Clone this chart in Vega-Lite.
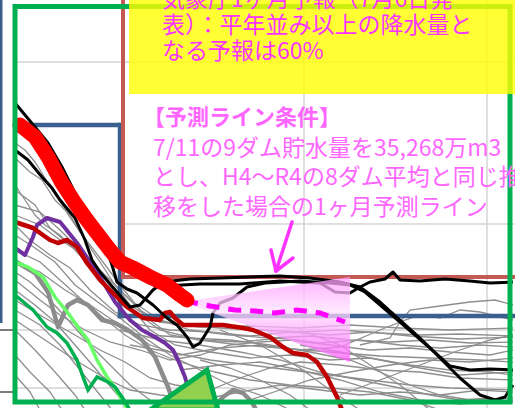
{
  "$schema": "https://vega.github.io/schema/vega-lite/v6.json",
  "autosize": {"type": "fit", "contains": "padding"},
  "width": 515,
  "height": 408,
  "padding": 0,
  "background": "white",
  "config": {"view": {"stroke": null}},
  "datasets": {
    "grid": [
      {"x": 15, "y": 62, "x2": 515, "y2": 62},
      {"x": 120, "y": 224, "x2": 515, "y2": 224},
      {"x": 15, "y": 330, "x2": 515, "y2": 330},
      {"x": 15, "y": 388, "x2": 515, "y2": 388},
      {"x": 123, "y": 0, "x2": 123, "y2": 408},
      {"x": 304, "y": 0, "x2": 304, "y2": 408},
      {"x": 487, "y": 0, "x2": 487, "y2": 408}
    ],
    "outerBlue": [{"x": 1, "y": 0, "x2": 1, "y2": 323}],
    "outerDark": [
      {"x": 0, "y": 330, "x2": 13, "y2": 330},
      {"x": 0, "y": 392, "x2": 13, "y2": 392}
    ],
    "gray": [
      {"s": "g1", "x": [15,25,35,45,55,70,85,100,115,130,150,180,220,260,300,340,380,420,460,513], "y": [143,150,162,178,195,215,240,262,285,305,318,325,328,330,332,330,333,335,334,336]},
      {"s": "g2", "x": [15,30,42,55,65,80,100,120,140,160,200,250,300,350,400,450,513], "y": [158,172,180,200,210,232,258,285,310,322,327,326,328,325,328,330,328]},
      {"s": "g3", "x": [15,35,50,70,90,110,130,150,170,200,240,280,320,360,400,440,480,513], "y": [190,205,228,245,262,280,300,320,335,340,342,338,343,340,345,348,345,347]},
      {"s": "g4", "x": [15,40,60,85,105,125,150,175,210,250,290,330,370,410,450,490,513], "y": [215,225,240,255,278,300,330,345,352,358,355,360,358,365,370,372,375]},
      {"s": "g5", "x": [15,35,55,75,95,120,145,170,200,230,260,290], "y": [235,248,262,285,300,318,338,355,370,385,395,410]},
      {"s": "g6", "x": [15,40,60,80,100,125,150,180,215,250,290,330,370,410,440], "y": [250,262,280,298,315,335,350,362,372,380,385,388,392,400,410]},
      {"s": "g7", "x": [15,30,50,70,90,110,130,150,165], "y": [272,282,300,322,345,365,385,400,410]},
      {"s": "g8", "x": [15,35,55,75,95,115,130], "y": [290,305,322,345,368,392,410]},
      {"s": "g9", "x": [15,40,60,80,100,112], "y": [310,325,345,370,395,410]},
      {"s": "g10", "x": [15,35,55,75,85], "y": [330,350,372,395,410]},
      {"s": "g11", "x": [15,30,50,62], "y": [355,372,392,410]},
      {"s": "g12", "x": [15,30,40], "y": [375,392,410]},
      {"s": "g13", "x": [15,40,60,80,100,130,160,190,230,270,310,350,390,430,470,513], "y": [205,212,230,250,270,300,320,330,335,338,336,340,342,340,343,342]},
      {"s": "g14", "x": [15,30,50,70,90,115,140,170,210,250,290,330,370,410,460,513], "y": [225,240,255,268,290,312,325,330,332,336,332,335,332,336,339,337]},
      {"s": "g15", "x": [15,40,65,90,120,150,180,220,260,300,340,380,400,410,440,470,495,513], "y": [262,272,290,305,325,345,355,348,345,350,347,330,322,310,306,302,300,305]},
      {"s": "g16", "x": [15,40,60,85,110,140,170,200,230,260,290,330,370,410,450,490,513], "y": [280,300,315,330,342,350,360,355,345,342,340,345,350,348,352,355,350]},
      {"s": "g17", "x": [15,45,75,100,125,150,175,210,240,270,300,340,380,420,460,513], "y": [300,318,335,350,362,378,385,390,378,368,362,365,370,372,378,380]},
      {"s": "g18", "x": [15,45,75,105,130,160,200,240,280,320,360,400,440,480,513], "y": [320,340,360,378,390,395,400,392,385,390,395,392,395,390,392]},
      {"s": "g19", "x": [120,160,200,240,280,320,360,400,430,460,490,513], "y": [330,340,345,352,360,372,380,388,395,400,398,402]},
      {"s": "g20", "x": [150,190,230,270,310,350,380,410,440,470,513], "y": [335,338,340,345,352,360,372,385,395,400,398]},
      {"s": "g21", "x": [200,230,260,290,310], "y": [360,368,380,395,410]},
      {"s": "g22", "x": [180,220,260,300,340,380,420,460,513], "y": [370,365,362,370,380,392,400,404,400]},
      {"s": "g23", "x": [250,280,310,350,390,430,470,513], "y": [400,390,380,372,365,360,362,358]},
      {"s": "g24", "x": [360,390,400,420,440,460,480,513], "y": [345,338,322,315,318,310,312,320]},
      {"s": "g25", "x": [300,340,380,420,460,513], "y": [345,352,360,368,375,372]},
      {"s": "g26", "x": [15,25,35,45,60,75,95,115,135,160,200,240,280,330,380,430,480,513], "y": [185,200,215,225,235,250,272,295,312,330,340,345,348,352,356,358,360,362]},
      {"s": "g27", "x": [300,340,370,400,430], "y": [330,345,365,385,410]},
      {"s": "g28", "x": [340,380,420,460,490,513], "y": [395,380,365,350,340,335]},
      {"s": "g29", "x": [220,260,300,330,360], "y": [330,345,368,390,410]},
      {"s": "g30", "x": [130,170,210,250,290,330,370,410,450,513], "y": [345,352,360,365,370,375,380,385,388,390]}
    ],
    "thickGray": [
      {"s": "a", "x": [15,35,48,58,68,77,88,102,115,128,142,155,168,176], "y": [261,273,292,327,305,300,305,320,323,330,340,357,387,410]},
      {"s": "b", "x": [212,223,233,243,252,256], "y": [410,397,390,393,402,410]}
    ],
    "lightGreen": [
      {"s": "lg", "x": [15,28,43,55,68,80,88,97,107,115,122,128], "y": [262,267,277,297,313,330,340,360,377,388,400,410]}
    ],
    "green": [
      {"s": "gr", "x": [15,33,47,57,67,77,83,88,97,108,115,122,130], "y": [295,310,327,333,343,360,377,390,377,382,387,397,410]}
    ],
    "purple": [
      {"s": "p", "x": [15,25,33,37,47,60,65,77,90,100,115,130,142,155,165,173,178,185,190,192], "y": [248,255,237,225,218,222,228,243,262,277,302,320,330,337,343,350,360,377,395,410]}
    ],
    "darkRed": [
      {"s": "dr", "x": [15,33,50,58,67,77,87,100,113,127,143,160,165,170,175,183,203,223,243,253,270,283,293,307,317,327,337,342], "y": [222,228,240,243,240,247,263,280,293,307,318,320,313,312,318,325,325,325,328,330,337,347,353,355,362,377,397,410]}
    ],
    "black": [
      {"s": "b1", "x": [15,35,48,62,75,88,98,105,112,117,127,137,153,167,177,187,193,200,210,213,220,233,247,265,300,330,350,365,400,430,450,470,490,513], "y": [103,127,143,167,193,213,227,245,265,282,289,293,305,318,325,337,347,343,327,313,303,298,287,283,281,283,285,292,322,348,366,370,369,370]},
      {"s": "b2", "x": [15,28,42,52,60,75,85,92,100,110,123,130,140,153,163,190,220,250,280,310,340,360,380,400,420,440,460,480,495,505,513], "y": [150,160,177,188,200,218,240,260,272,284,299,307,305,290,282,279,278,277,276,278,282,287,302,320,338,358,378,395,400,397,385]},
      {"s": "b3", "x": [165,200,240,280,320,335,350,360,370,385,393,400,420,445,470,490,513], "y": [286,284,284,281,283,292,293,287,282,279,272,280,281,279,281,283,282]}
    ],
    "blue": [
      {"x": 15, "y": 125, "x2": 120, "y2": 125},
      {"x": 120, "y": 125, "x2": 120, "y2": 316},
      {"x": 120, "y": 316, "x2": 515, "y2": 316}
    ],
    "brown": [
      {"x": 123, "y": 0, "x2": 123, "y2": 277},
      {"x": 123, "y": 277, "x2": 515, "y2": 277}
    ],
    "fan": [
      {"x": 182, "y": 302, "y2": 302},
      {"x": 350, "y": 277, "y2": 362}
    ],
    "dash": [
      {"s": "d", "x": [185,210,235,255,275,297,320,345], "y": [301,306,310,311,313,310,313,322]}
    ],
    "red": [
      {"s": "r", "x": [20,35,48,62,75,87,100,110,120,133,150,167,180,187], "y": [125,137,157,183,203,220,237,250,262,268,277,285,295,300]}
    ],
    "poly": [
      {"x": 150, "y": 410, "y2": 410},
      {"x": 207, "y": 370, "y2": 410},
      {"x": 218, "y": 410, "y2": 410}
    ],
    "box": [{"x": 15, "y": 6.5, "x2": 510, "y2": 402}],
    "yellow": [{"x": 129, "y": -5, "x2": 520, "y2": 94}],
    "ytext": [
      {"x": 162, "y": 0, "t": "気象庁1ヶ月予報（7月6日発"},
      {"x": 162, "y": 26, "t": "表）：平年並み以上の降水量と"},
      {"x": 162, "y": 52, "t": "なる予報は60%"}
    ],
    "title": [{"x": 143, "y": 118, "t": "【予測ライン条件】"}],
    "body": [
      {"x": 153, "y": 149, "t": "7/11の9ダム貯水量を35,268万m3"},
      {"x": 153, "y": 178, "t": "とし、H4～R4の8ダム平均と同じ推"},
      {"x": 153, "y": 208, "t": "移をした場合の1ヶ月予測ライン"}
    ],
    "arrow": [
      {"x": 292, "y": 222, "x2": 276, "y2": 271},
      {"x": 276, "y": 271, "x2": 271, "y2": 250},
      {"x": 276, "y": 271, "x2": 293, "y2": 258}
    ]
  },
  "encoding": {
    "x": {"field": "x", "type": "quantitative", "scale": {"domain": [0, 515], "nice": false, "zero": false}, "axis": null},
    "y": {"field": "y", "type": "quantitative", "scale": {"domain": [0, 408], "reverse": true, "nice": false, "zero": false}, "axis": null}
  },
  "layer": [
    {"data": {"name": "grid"}, "mark": {"type": "rule", "color": "#D4D4D4", "strokeWidth": 1.5, "clip": true}, "encoding": {"x2": {"field": "x2"}, "y2": {"field": "y2"}}},
    {"data": {"name": "outerBlue"}, "mark": {"type": "rule", "color": "#3B5E8C", "strokeWidth": 3, "clip": true}, "encoding": {"x2": {"field": "x2"}, "y2": {"field": "y2"}}},
    {"data": {"name": "outerDark"}, "mark": {"type": "rule", "color": "#505050", "strokeWidth": 1.5, "clip": true}, "encoding": {"x2": {"field": "x2"}, "y2": {"field": "y2"}}},
    {"data": {"name": "gray"}, "transform": [{"flatten": ["x", "y"]}], "mark": {"type": "line", "color": "#8E8E8E", "strokeWidth": 1.3, "clip": true}, "encoding": {"detail": {"field": "s"}}},
    {"data": {"name": "thickGray"}, "transform": [{"flatten": ["x", "y"]}], "mark": {"type": "line", "color": "#8C8C8C", "strokeWidth": 4.5, "clip": true, "strokeJoin": "round"}, "encoding": {"detail": {"field": "s"}}},
    {"data": {"name": "lightGreen"}, "transform": [{"flatten": ["x", "y"]}], "mark": {"type": "line", "color": "#66FF66", "strokeWidth": 3.5, "clip": true}, "encoding": {"detail": {"field": "s"}}},
    {"data": {"name": "green"}, "transform": [{"flatten": ["x", "y"]}], "mark": {"type": "line", "color": "#00B050", "strokeWidth": 3.5, "clip": true}, "encoding": {"detail": {"field": "s"}}},
    {"data": {"name": "blue"}, "mark": {"type": "rule", "color": "#3A6090", "strokeWidth": 4.5, "strokeCap": "square", "clip": true}, "encoding": {"x2": {"field": "x2"}, "y2": {"field": "y2"}}},
    {"data": {"name": "brown"}, "mark": {"type": "rule", "color": "#C55A55", "strokeWidth": 4, "strokeCap": "square", "clip": true}, "encoding": {"x2": {"field": "x2"}, "y2": {"field": "y2"}}},
    {"data": {"name": "purple"}, "transform": [{"flatten": ["x", "y"]}], "mark": {"type": "line", "color": "#7030A0", "strokeWidth": 4, "clip": true, "strokeJoin": "round"}, "encoding": {"detail": {"field": "s"}}},
    {"data": {"name": "darkRed"}, "transform": [{"flatten": ["x", "y"]}], "mark": {"type": "line", "color": "#C00000", "strokeWidth": 4.5, "clip": true, "strokeJoin": "round"}, "encoding": {"detail": {"field": "s"}}},
    {"data": {"name": "black"}, "transform": [{"flatten": ["x", "y"]}], "mark": {"type": "line", "color": "#000000", "strokeWidth": 3, "clip": true, "strokeJoin": "round"}, "encoding": {"detail": {"field": "s"}}},
    {"data": {"name": "fan"}, "mark": {"type": "area", "opacity": 0.75, "clip": true, "color": {"gradient": "linear", "x1": 0, "y1": 0, "x2": 0, "y2": 1, "stops": [{"offset": 0, "color": "#FF99FF"}, {"offset": 0.4, "color": "#FFE0FF"}, {"offset": 1, "color": "#FF55FF"}]}}, "encoding": {"y2": {"field": "y2"}}},
    {"data": {"name": "dash"}, "transform": [{"flatten": ["x", "y"]}], "mark": {"type": "line", "color": "#FF00FF", "strokeWidth": 5, "strokeDash": [13, 9], "clip": true}, "encoding": {"detail": {"field": "s"}}},
    {"data": {"name": "red"}, "transform": [{"flatten": ["x", "y"]}], "mark": {"type": "line", "color": "#FF0000", "strokeWidth": 15, "strokeCap": "round", "strokeJoin": "round", "clip": true}, "encoding": {"detail": {"field": "s"}}},
    {"data": {"name": "poly"}, "mark": {"type": "area", "color": "#92D050", "stroke": "#00B050", "strokeWidth": 5, "strokeJoin": "miter", "clip": true, "opacity": 1}, "encoding": {"y2": {"field": "y2"}}},
    {"data": {"name": "box"}, "mark": {"type": "rect", "filled": false, "stroke": "#00B050", "strokeWidth": 5, "clip": true}, "encoding": {"x2": {"field": "x2"}, "y2": {"field": "y2"}}},
    {"data": {"name": "yellow"}, "mark": {"type": "rect", "color": "#FFFF00", "opacity": 0.8, "clip": true}, "encoding": {"x2": {"field": "x2"}, "y2": {"field": "y2"}}},
    {"data": {"name": "ytext"}, "mark": {"type": "text", "align": "left", "baseline": "middle", "font": "Noto Sans CJK JP", "fontSize": 23, "color": "#FF33FF", "clip": true}, "encoding": {"text": {"field": "t"}}},
    {"data": {"name": "title"}, "mark": {"type": "text", "align": "left", "baseline": "middle", "font": "Noto Sans CJK JP", "fontSize": 22, "fontWeight": "bold", "color": "#FF66FF", "clip": true}, "encoding": {"text": {"field": "t"}}},
    {"data": {"name": "body"}, "mark": {"type": "text", "align": "left", "baseline": "middle", "font": "Noto Sans CJK JP", "fontSize": 23, "color": "#FF66FF", "clip": true}, "encoding": {"text": {"field": "t"}}},
    {"data": {"name": "arrow"}, "mark": {"type": "rule", "color": "#FF33FF", "strokeWidth": 3.5, "strokeCap": "round", "clip": true}, "encoding": {"x2": {"field": "x2"}, "y2": {"field": "y2"}}}
  ]
}
